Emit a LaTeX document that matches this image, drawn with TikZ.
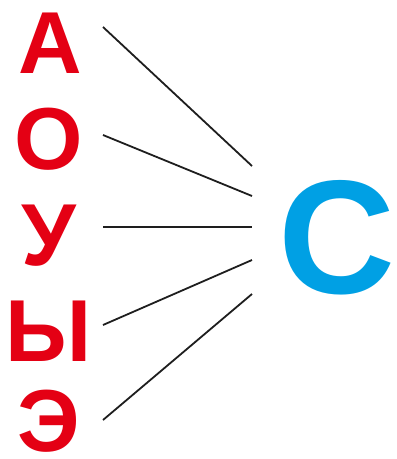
\documentclass[tikz,border=0pt]{standalone}
\usepackage{fontspec}
\setmainfont{Liberation Sans}
\usepackage{tikz}
\usetikzlibrary{positioning}
\definecolor{vowred}{RGB}{228,0,20}
\definecolor{consblue}{RGB}{0,160,228}
\definecolor{linkgray}{RGB}{30,30,30}

\begin{document}
\begin{tikzpicture}[
  x=1pt, y=-1pt,
  vowel/.style={inner sep=0pt, text=vowred,
    font=\fontsize{88}{88}\selectfont\bfseries},
  cons/.style={inner sep=0pt, text=consblue,
    font=\fontsize{162}{162}\selectfont\bfseries},
  link/.style={draw=linkgray, line width=1.8pt}
]
  \useasboundingbox (0,0) rectangle (397,459);

  % --- vowels (left column) ---
  \node[vowel] (a)  at (50,43.5)  {А};
  \node[vowel] (o)  at (49,139.5) {О};
  \node[vowel] (u)  at (49,235.5) {У};
  \node[vowel] (y)  at (49,331)   {Ы};
  \node[vowel] (e)  at (49,421)   {Э};

  % --- consonant (right) ---
  \node[cons]  (s)  at (337,238)  {С};

  % --- line ends ---
  \coordinate (a-out) at (103,27);
  \coordinate (o-out) at (103,135);
  \coordinate (u-out) at (103,227);
  \coordinate (y-out) at (103,325);
  \coordinate (e-out) at (103,420);
  \coordinate (s-a)   at (252,166);
  \coordinate (s-o)   at (252,196);
  \coordinate (s-u)   at (252,227);
  \coordinate (s-y)   at (252,260);
  \coordinate (s-e)   at (252,294);

  % --- links ---
  \draw[link] (a-out) -- (s-a);
  \draw[link] (o-out) -- (s-o);
  \draw[link] (u-out) -- (s-u);
  \draw[link] (y-out) -- (s-y);
  \draw[link] (e-out) -- (s-e);
\end{tikzpicture}
\end{document}
